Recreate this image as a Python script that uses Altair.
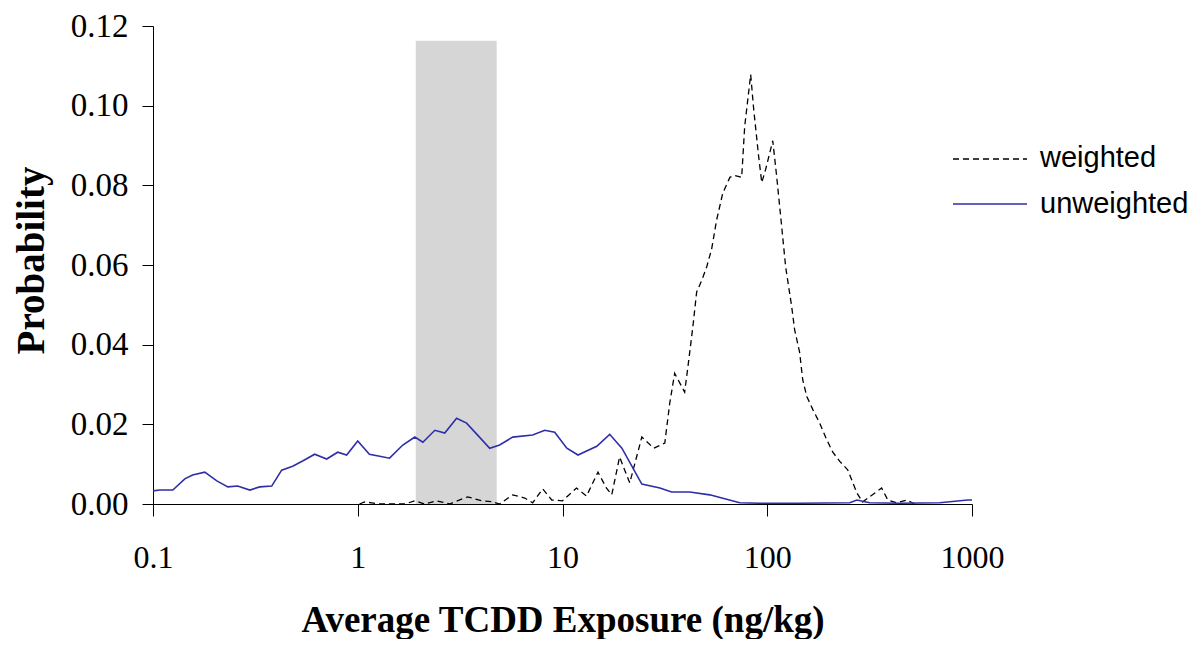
import altair as alt
import pandas as pd

# Unweighted distribution (solid blue)
unw_x = [0.100, 0.108, 0.125, 0.143, 0.156, 0.179, 0.205, 0.232, 0.259, 0.297,
         0.332, 0.380, 0.425, 0.481, 0.538, 0.616, 0.705, 0.798, 0.883, 1.00,
         1.14, 1.28, 1.43, 1.66, 1.90, 2.08, 2.38, 2.66, 3.04, 3.40,
         3.85, 4.41, 4.93, 5.71, 7.15, 8.19, 9.16, 10.5, 11.9, 14.7,
         17.0, 19.5, 24.4, 29.9, 34.1, 41.8, 52.4, 62.0, 73.4, 91.8,
         144, 253, 274, 316, 444, 695, 953, 1000]
unw_y = [0.0033, 0.0035, 0.0035, 0.0063, 0.0073, 0.0080, 0.0058, 0.0043, 0.0045, 0.0035,
         0.0043, 0.0045, 0.0085, 0.0095, 0.0108, 0.0125, 0.0113, 0.0130, 0.0123, 0.0158,
         0.0125, 0.0120, 0.0115, 0.0148, 0.0168, 0.0155, 0.0185, 0.0178, 0.0215, 0.0203,
         0.0173, 0.0140, 0.0148, 0.0168, 0.0173, 0.0185, 0.0180, 0.0140, 0.0123, 0.0145,
         0.0175, 0.0140, 0.0050, 0.0040, 0.0030, 0.0030, 0.0023, 0.0013, 0.0003, 0.0002,
         0.0002, 0.0003, 0.0010, 0.0003, 0.0002, 0.0003, 0.0010, 0.0010]

# Weighted distribution (dashed black)
w_x = [1.02, 1.08, 1.17, 1.28, 1.70, 1.90, 2.12, 2.43, 2.81, 3.44,
       4.03, 4.51, 4.93, 5.71, 6.54, 7.15, 8.0, 8.86, 10.0, 11.7,
       13.1, 14.9, 16.4, 17.4, 19.0, 21.3, 24.4, 27.9, 31.6, 33.4,
       35.3, 39.5, 40.9, 43.3, 45.2, 47.9, 50.6, 53.5, 56.6, 60.6,
       65.7, 69.3, 75.0, 77.6, 83.0, 85.9, 90.8, 94.0, 98.2, 106.4,
       111.2, 117.6, 123, 131.6, 136, 144, 149, 156, 167, 180,
       195, 209, 226, 247, 274, 292, 316, 362, 388, 429,
       480, 525]
w_y = [0.0, 0.0005, 0.0003, 0.0, 0.0, 0.0008, 0.0, 0.0008, 0.0, 0.0018,
       0.0008, 0.0006, 0.0, 0.0023, 0.0015, 0.0003, 0.0038, 0.0010, 0.0008, 0.0040,
       0.0020, 0.0080, 0.0040, 0.0023, 0.0118, 0.0053, 0.0168, 0.0140, 0.0153, 0.0253,
       0.0328, 0.0281, 0.0341, 0.0444, 0.0532, 0.0562, 0.0595, 0.0640, 0.0713, 0.0780,
       0.0820, 0.0825, 0.0820, 0.0948, 0.1078, 0.0990, 0.0872, 0.0807, 0.0840, 0.0912,
       0.0822, 0.0697, 0.0595, 0.0496, 0.0438, 0.0380, 0.0312, 0.0270, 0.0237, 0.0204,
       0.0162, 0.0130, 0.0107, 0.0086, 0.0028, 0.0005, 0.0018, 0.0040, 0.0010, 0.0003,
       0.0010, 0.0]

# Shaded band
band_lo = [1.92]
band_hi = [4.77]
band_bottom = [0.0]
band_top = [0.1163]

x_ticks = [0.1, 1, 10, 100, 1000]
y_ticks = [0.0, 0.02, 0.04, 0.06, 0.08, 0.10, 0.12]

unw = pd.DataFrame({"x": unw_x, "y": unw_y})
wtd = pd.DataFrame({"x": w_x, "y": w_y})
band = pd.DataFrame({"lo": band_lo, "hi": band_hi, "bottom": band_bottom, "top": band_top})

SERIF = "Liberation Serif"
SANS = "Liberation Sans"
BLUE = "#2e2ea8"

xscale = alt.Scale(type="log", domain=[0.1, 1000])
yscale = alt.Scale(domain=[0, 0.12])

xaxis = alt.Axis(
    values=x_ticks, format="~g", title="Average TCDD Exposure (ng/kg)",
    titleFont=SERIF, titleFontSize=37, titleFontWeight="bold", titleColor="black",
    titleY=127, titleBaseline="alphabetic",
    labelFont=SERIF, labelFontSize=32, labelColor="black", labelPadding=26,
    tickSize=12, tickColor="black", domainColor="black", grid=False,
    labelFlush=False, labelOverlap=False,
)
yaxis = alt.Axis(
    values=y_ticks, format=".2f", title="Probability",
    titleFont=SERIF, titleFontSize=39, titleFontWeight="bold", titleColor="black",
    titleX=-110, titleY=234, titleAngle=270, titleAlign="center", titleBaseline="alphabetic",
    labelFont=SERIF, labelFontSize=33, labelColor="black", labelPadding=14,
    tickSize=11, tickColor="black", domainColor="black", grid=False,
    labelFlush=False, labelOverlap=False,
)

rect = alt.Chart(band).mark_rect(color="#d6d6d6").encode(
    x=alt.X("lo:Q", scale=xscale, axis=xaxis),
    x2="hi:Q",
    y=alt.Y("bottom:Q", scale=yscale, axis=yaxis),
    y2="top:Q",
)

line_w = alt.Chart(wtd).mark_line(color="black", strokeWidth=1.3, strokeDash=[6, 4]).encode(
    x=alt.X("x:Q", scale=xscale, axis=xaxis),
    y=alt.Y("y:Q", scale=yscale, axis=yaxis),
    order="x:Q",
)
line_u = alt.Chart(unw).mark_line(color=BLUE, strokeWidth=1.6).encode(
    x=alt.X("x:Q", scale=xscale, axis=xaxis),
    y=alt.Y("y:Q", scale=yscale, axis=yaxis),
    order="x:Q",
)

leg = pd.DataFrame({"k": [1]})
leg_w_line = alt.Chart(leg).mark_rule(color="black", strokeWidth=1.3, strokeDash=[6, 4]).encode(
    x=alt.value(800), x2=alt.value(874), y=alt.value(133))
leg_u_line = alt.Chart(leg).mark_rule(color=BLUE, strokeWidth=1.6).encode(
    x=alt.value(800), x2=alt.value(874), y=alt.value(178))
leg_w_text = alt.Chart(leg).mark_text(font=SANS, fontSize=29, align="left",
                                      baseline="alphabetic", color="black").encode(
    x=alt.value(887), y=alt.value(141), text=alt.value("weighted"))
leg_u_text = alt.Chart(leg).mark_text(font=SANS, fontSize=29, align="left",
                                      baseline="alphabetic", color="black").encode(
    x=alt.value(887), y=alt.value(187), text=alt.value("unweighted"))

chart = alt.layer(
    rect, line_w, line_u, leg_w_line, leg_u_line, leg_w_text, leg_u_text
).properties(
    width=819, height=478,
    background="white",
    autosize=alt.AutoSizeParams(type="none"),
    padding={"left": 145, "top": 18, "right": 215, "bottom": 135},
).configure_view(stroke=None)

chart.save("out.html", embed_options={"renderer": "svg", "actions": False})
